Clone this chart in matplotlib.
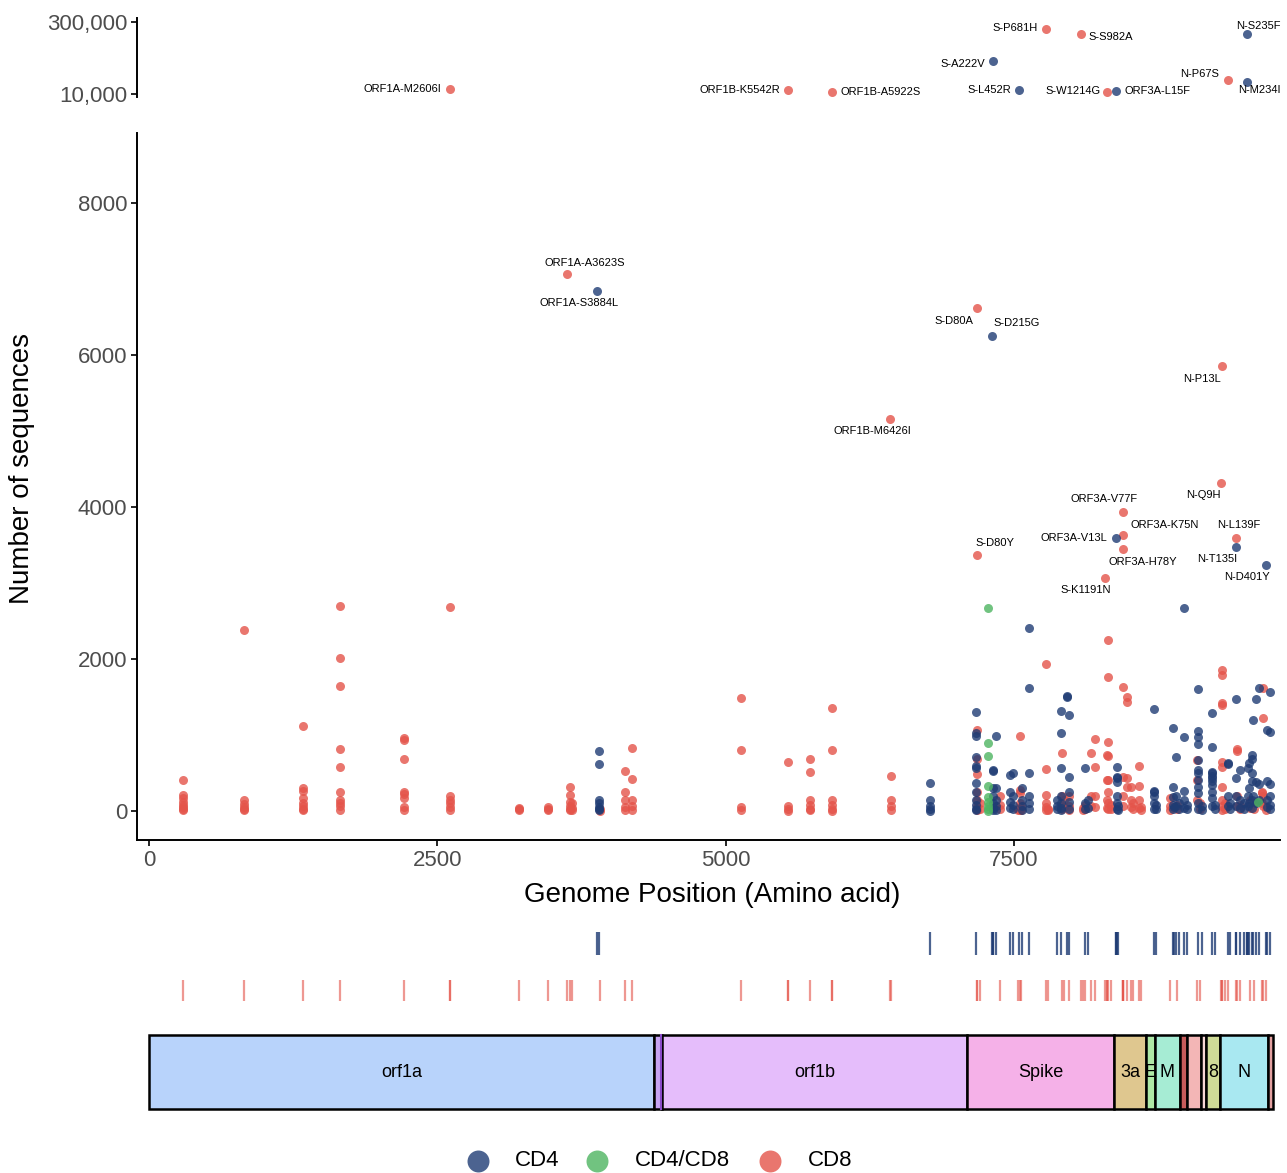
import numpy as np
import matplotlib
matplotlib.use('Agg')
import matplotlib.pyplot as plt
from matplotlib.patches import Rectangle

plt.rcParams['font.family'] = ['Liberation Sans', 'DejaVu Sans']

W, H = 1287, 1173

def box(x0, y0, x1, y1):
    # pixel box (top-left origin) -> figure fraction rect
    return [x0 / W, 1 - y1 / H, (x1 - x0) / W, (y1 - y0) / H]

# ------------------------------------------------------------
# Data (genome position in amino acids, number of sequences)
# ------------------------------------------------------------
cd8_points = [
    (292, 408), (292, 210), (292, 175), (292, 122), (292, 85), (292, 57), (292, 30), (292, 10),
    (822, 2380), (822, 145), (822, 90), (822, 57), (822, 30), (822, 15),
    (1335, 1118), (1335, 300), (1335, 260), (1335, 170), (1335, 100), (1335, 60), (1335, 25), (1335, 10),
    (1656, 2697), (1656, 2010), (1656, 1650), (1656, 815), (1656, 583), (1656, 254), (1656, 145),
    (1656, 100), (1656, 60), (1656, 10),
    (2210, 965), (2210, 939), (2210, 680), (2210, 254), (2210, 220), (2210, 170), (2210, 57), (2210, 10),
    (2610, 2690), (2610, 197), (2610, 145), (2610, 100), (2610, 50), (2610, 10),
    (3207, 35), (3207, 20), (3207, 10),
    (3460, 57), (3460, 30), (3460, 10),
    (3650, 311), (3650, 210), (3650, 122), (3650, 60), (3650, 20), (3650, 10),
    (3668, 100), (3668, 40), (3668, 10),
    (3914, 20), (3914, 5),
    (4124, 526), (4124, 254), (4124, 145), (4124, 57), (4124, 10),
    (4191, 825), (4191, 417), (4191, 145), (4191, 60), (4191, 10),
    (5137, 1487), (5137, 803), (5137, 50), (5137, 10),
    (5545, 645), (5545, 60), (5545, 20), (5545, 5),
    (5731, 684), (5731, 513), (5731, 145), (5731, 80), (5731, 30), (5731, 10),
    (5926, 1355), (5926, 803), (5926, 145), (5926, 80), (5926, 20), (5926, 5),
    (6436, 460), (6436, 145), (6436, 60), (6436, 10),
    (7182, 1066), (7182, 680), (7182, 487), (7182, 250), (7182, 150), (7182, 60), (7182, 10),
    (7205, 100), (7205, 30),
    (7381, 200), (7381, 80), (7381, 20),
    (7537, 30), (7537, 10),
    (7552, 987), (7552, 280), (7552, 230), (7552, 100), (7552, 40), (7552, 10),
    (7563, 60), (7563, 15),
    (7777, 1930), (7777, 557), (7777, 215), (7777, 100), (7777, 50), (7777, 10),
    (7795, 30), (7795, 10),
    (7919, 759), (7919, 200), (7919, 80), (7919, 20),
    (7935, 150), (7935, 50),
    (7981, 200), (7981, 60), (7981, 15),
    (8097, 40), (8097, 10),
    (8118, 80), (8118, 20),
    (8170, 759), (8170, 200), (8170, 60),
    (8205, 947), (8205, 583), (8205, 200), (8205, 50),
    (8304, 737), (8304, 414), (8304, 150), (8304, 40),
    (8318, 2250), (8318, 1759), (8318, 912), (8318, 728), (8318, 408), (8318, 250), (8318, 100), (8318, 20),
    (8340, 80), (8340, 20),
    (8448, 1636), (8448, 451), (8448, 200), (8448, 60),
    (8482, 1504), (8482, 1438), (8482, 430), (8482, 320),
    (8515, 320), (8515, 150), (8515, 50),
    (8535, 100), (8535, 30),
    (8581, 593), (8581, 329), (8581, 150), (8581, 40),
    (8602, 50), (8602, 10),
    (8850, 167), (8850, 60), (8850, 10),
    (8914, 80), (8914, 20),
    (9085, 675), (9085, 408), (9085, 150),
    (9110, 100), (9110, 30),
    (9306, 1855), (9306, 1789), (9306, 1417), (9306, 1391), (9306, 649), (9306, 583), (9306, 320),
    (9306, 150), (9306, 60), (9306, 10),
    (9332, 100), (9332, 30),
    (9436, 820), (9436, 790), (9436, 200), (9436, 60),
    (9459, 80), (9459, 20),
    (9547, 150), (9547, 40),
    (9582, 100), (9582, 30),
    (9651, 246), (9651, 232), (9651, 100),
    (9662, 1616), (9662, 1228), (9662, 200), (9662, 60),
    (9687, 50), (9687, 10),
]

cd4_points = [
    (3900, 790), (3900, 618), (3900, 145), (3900, 100), (3900, 57), (3900, 30), (3900, 10),
    (6771, 368), (6771, 145), (6771, 60), (6771, 20), (6771, 5),
    (7175, 1307), (7175, 1030), (7175, 987), (7175, 715), (7175, 592), (7175, 561), (7175, 364),
    (7175, 250), (7175, 150), (7175, 80), (7175, 30), (7175, 10),
    (7322, 539), (7322, 530), (7322, 300), (7322, 200), (7322, 100), (7322, 40), (7322, 10),
    (7348, 991), (7348, 300), (7348, 150), (7348, 60), (7348, 10),
    (7468, 474), (7468, 250), (7468, 120), (7468, 40),
    (7494, 496), (7494, 200), (7494, 80), (7494, 20),
    (7566, 300), (7566, 150), (7566, 60), (7566, 10),
    (7632, 2414), (7632, 1622), (7632, 496), (7632, 200), (7632, 100), (7632, 30),
    (7870, 150), (7870, 60), (7870, 20),
    (7911, 1316), (7911, 1020), (7911, 561), (7911, 200), (7911, 100), (7911, 40), (7911, 10),
    (7957, 1517), (7957, 1500),
    (7981, 1259), (7981, 451), (7981, 250), (7981, 120), (7981, 30),
    (8118, 562), (8118, 100), (8118, 20),
    (8138, 150), (8138, 40),
    (8390, 572), (8390, 451), (8390, 438), (8390, 385), (8390, 200), (8390, 100), (8390, 30),
    (8399, 60), (8399, 10),
    (8716, 1338), (8716, 264), (8716, 254), (8716, 191), (8716, 100), (8716, 30),
    (8728, 80), (8728, 20),
    (8877, 1088), (8877, 320), (8877, 188), (8877, 80), (8877, 20),
    (8888, 50),
    (8904, 706), (8904, 200), (8904, 60),
    (8930, 100), (8930, 20),
    (8977, 2675), (8977, 970), (8977, 264), (8977, 150), (8977, 40),
    (8999, 80), (8999, 20),
    (9100, 1601), (9100, 1054), (9100, 967), (9100, 882), (9100, 675), (9100, 539), (9100, 500),
    (9100, 408), (9100, 320), (9100, 232), (9100, 100), (9100, 30),
    (9132, 60), (9132, 10),
    (9219, 1283), (9219, 846), (9219, 517), (9219, 504), (9219, 460), (9219, 430), (9219, 395),
    (9219, 342), (9219, 254), (9219, 167), (9219, 60),
    (9243, 80), (9243, 20),
    (9355, 625), (9355, 618), (9355, 200), (9355, 60),
    (9371, 100), (9371, 20),
    (9425, 1478), (9425, 430), (9425, 200), (9425, 60),
    (9460, 539), (9460, 150), (9460, 40),
    (9492, 100), (9492, 20),
    (9526, 561), (9526, 200), (9526, 60),
    (9537, 634), (9537, 300), (9537, 100),
    (9566, 737), (9566, 678), (9566, 496), (9566, 400), (9566, 150), (9566, 40),
    (9575, 1197), (9575, 200),
    (9596, 1478), (9596, 380), (9596, 100),
    (9624, 1612), (9624, 360), (9624, 150),
    (9696, 1066), (9696, 400), (9696, 150), (9696, 50),
    (9720, 1570), (9720, 1036), (9720, 360), (9720, 200), (9720, 80), (9720, 20),
]

both_points = [
    (7277, 2675), (7277, 890), (7277, 724), (7277, 329), (7277, 180), (7277, 120),
    (7277, 60), (7277, 20), (7277, 5), (9616, 120),
]

# labelled mutations in the main panel
lab_names = ['ORF1A-A3623S', 'ORF1A-S3884L', 'S-D80A', 'S-D215G', 'N-P13L', 'ORF1B-M6426I',
             'N-Q9H', 'ORF3A-V77F', 'ORF3A-K75N', 'ORF3A-V13L', 'ORF3A-H78Y', 'N-L139F',
             'N-T135I', 'N-D401Y', 'S-D80Y', 'S-K1191N']
lab_pos = [3623, 3884, 7176, 7311, 9300, 6426, 9296, 8446, 8444, 8382, 8447, 9426,
           9422, 9688, 7176, 8287]
lab_counts = [7066, 6842, 6618, 6250, 5855, 5158, 4316, 3934, 3632, 3592, 3447, 3592,
              3474, 3237, 3368, 3066]
lab_group = ['CD8', 'CD4', 'CD8', 'CD4', 'CD8', 'CD8', 'CD8', 'CD8', 'CD8', 'CD4', 'CD8', 'CD8',
             'CD4', 'CD4', 'CD8', 'CD8']

# very frequent mutations (broken log axis on top)
top_names = ['ORF1A-M2606I', 'ORF1B-K5542R', 'ORF1B-A5922S', 'S-A222V', 'S-P681H', 'S-S982A',
             'S-L452R', 'S-W1214G', 'ORF3A-L15F', 'N-P67S', 'N-S235F', 'N-M234I']
top_pos = [2606, 5542, 5922, 7318, 7777, 8078, 7548, 8310, 8384, 9354, 9522, 9521]
top_counts = [12700, 12100, 11100, 47500, 215000, 170000, 12000, 11000, 11500, 19400, 170000, 17600]
top_group = ['CD8', 'CD8', 'CD8', 'CD4', 'CD8', 'CD8', 'CD4', 'CD8', 'CD4', 'CD8', 'CD4', 'CD4']

# genome segments
gene_names = ['orf1a', '', 'orf1b', 'Spike', '3a', 'E', 'M', '', '', '', '8', 'N', '']
gene_start = [0, 4380, 4450, 7096, 8369, 8644, 8719, 8941, 9002, 9123, 9166, 9287, 9706]
gene_end = [4380, 4450, 7096, 8369, 8644, 8719, 8941, 9002, 9123, 9166, 9287, 9706, 9744]
gene_colors = ['#b8d3fb', '#c7a3f3', '#e5bdfb', '#f5b1e8', '#dfc78f', '#aee8a6', '#a6ecd4',
               '#c65b5b', '#f3b6b6', '#f8d6d6', '#cfdb97', '#a9e8f1', '#e2a0a0']

groups = ['CD4', 'CD4/CD8', 'CD8']
colors = {'CD4': '#1f3c74', 'CD4/CD8': '#4db461', 'CD8': '#e4544a'}
ALPHA = 0.8
S = 42

# label offsets (points) : dx, dy, ha
lab_off = {
    'ORF1A-A3623S': (13, 8, 'center'), 'ORF1A-S3884L': (-13, -9, 'center'),
    'S-D80A': (-16, -9, 'center'), 'S-D215G': (18, 9, 'center'),
    'N-P13L': (-14, -9, 'center'), 'ORF1B-M6426I': (-13, -9, 'center'),
    'N-Q9H': (-13, -9, 'center'), 'ORF3A-V77F': (-14, 9, 'center'),
    'ORF3A-K75N': (30, 7, 'center'), 'ORF3A-V13L': (-30, 0, 'center'),
    'ORF3A-H78Y': (14, -9, 'center'), 'N-L139F': (2, 9, 'center'),
    'N-T135I': (-13, -9, 'center'), 'N-D401Y': (-14, -9, 'center'),
    'S-D80Y': (13, 9, 'center'), 'S-K1191N': (-14, -9, 'center'),
}
top_off = {
    'ORF1A-M2606I': (-6, 0, 'right'), 'ORF1B-K5542R': (-6, 0, 'right'),
    'ORF1B-A5922S': (6, 0, 'left'), 'S-A222V': (-6, -2, 'right'),
    'S-P681H': (-6, 1, 'right'), 'S-S982A': (6, -2, 'left'),
    'S-L452R': (-6, 0, 'right'), 'S-W1214G': (-5, 1, 'right'),
    'ORF3A-L15F': (6, 0, 'left'), 'N-P67S': (-6, 4, 'right'),
    'N-S235F': (8, 6, 'center'), 'N-M234I': (9, -6, 'center'),
}

XLIM = (-104, 9807)

fig = plt.figure(figsize=(W / 100, H / 100), dpi=100)

# ------------------------------------------------------------
# main panel
# ------------------------------------------------------------
ax = fig.add_axes(box(137, 133, 1280, 840))
for grp, pts in [('CD8', cd8_points), ('CD4', cd4_points), ('CD4/CD8', both_points)]:
    p = np.array(pts)
    ax.scatter(p[:, 0], p[:, 1], s=S, color=colors[grp], alpha=ALPHA, linewidths=0, zorder=2)
for name, x, y, g in zip(lab_names, lab_pos, lab_counts, lab_group):
    ax.scatter(x, y, s=S, color=colors[g], alpha=ALPHA, linewidths=0, zorder=3)
    dx, dy, ha = lab_off[name]
    ax.annotate(name, (x, y), xytext=(dx, dy), textcoords='offset points',
                ha=ha, va='center', fontsize=8)
ax.set_xlim(*XLIM)
ax.set_ylim(-382, 8921)
ax.set_xticks([0, 2500, 5000, 7500])
ax.set_yticks([0, 2000, 4000, 6000, 8000])
for s in ['top', 'right']:
    ax.spines[s].set_visible(False)
for s in ['left', 'bottom']:
    ax.spines[s].set_linewidth(1.4)
ax.tick_params(labelsize=16, labelcolor='#4d4d4d', length=4, width=1.2, pad=3)

# ------------------------------------------------------------
# top panel (log scale)
# ------------------------------------------------------------
axt = fig.add_axes(box(137, 18, 1280, 97))
for name, x, y, g in zip(top_names, top_pos, top_counts, top_group):
    axt.scatter(x, y, s=S, color=colors[g], alpha=ALPHA, linewidths=0, zorder=3)
    dx, dy, ha = top_off[name]
    axt.annotate(name, (x, y), xytext=(dx, dy), textcoords='offset points',
                 ha=ha, va='center', fontsize=8)
axt.set_yscale('log')
axt.set_xlim(*XLIM)
axt.set_ylim(8680, 362400)
axt.set_yticks([10000, 300000])
axt.set_yticklabels(['10,000', '300,000'])
axt.minorticks_off()
axt.set_xticks([])
for s in ['top', 'right', 'bottom']:
    axt.spines[s].set_visible(False)
axt.spines['left'].set_linewidth(1.4)
axt.tick_params(labelsize=16, labelcolor='#4d4d4d', length=4, width=1.2, pad=3)
axt.patch.set_alpha(0)

fig.text(22 / W, 1 - 468 / H, 'Number of sequences', rotation=90, ha='center', va='center', fontsize=20)
fig.text(712 / W, 1 - 895 / H, 'Genome Position (Amino acid)', ha='center', va='center', fontsize=20)

# ------------------------------------------------------------
# site rug rows
# ------------------------------------------------------------
axr = fig.add_axes(box(137, 925, 1280, 1010))
cd4_sites = sorted(set([p[0] for p in cd4_points] + [x for x, g in zip(lab_pos, lab_group) if g == 'CD4']
                       + [x for x, g in zip(top_pos, top_group) if g == 'CD4']))
cd8_sites = sorted(set([p[0] for p in cd8_points] + [x for x, g in zip(lab_pos, lab_group) if g == 'CD8']
                       + [x for x, g in zip(top_pos, top_group) if g == 'CD8']))
axr.vlines(cd4_sites, 0.647, 0.918, color=colors['CD4'], lw=1.6, alpha=0.8)
axr.vlines(cd8_sites, 0.106, 0.353, color=colors['CD8'], lw=1.6, alpha=0.6)
axr.set_xlim(*XLIM)
axr.set_ylim(0, 1)
axr.axis('off')

# ------------------------------------------------------------
# genome map
# ------------------------------------------------------------
axg = fig.add_axes(box(137, 1025, 1280, 1120))
for name, a, b, c in zip(gene_names, gene_start, gene_end, gene_colors):
    axg.add_patch(Rectangle((a, 0.116), b - a, 0.779, facecolor=c, edgecolor='black', linewidth=1.8))
    if name:
        axg.text((a + b) / 2, 0.5, name, ha='center', va='center', fontsize=13)
axg.axvline(4440, ymin=0.116, ymax=0.895, color='#8a4cc8', lw=1.5)
axg.set_xlim(*XLIM)
axg.set_ylim(0, 1)
axg.axis('off')

# ------------------------------------------------------------
# legend (drawn in pixel coordinates of the figure)
# ------------------------------------------------------------
axl = fig.add_axes([0, 0, 1, 1])
axl.set_xlim(0, W)
axl.set_ylim(H, 0)
axl.axis('off')
leg_marker_x = [478, 597, 770]
leg_text_x = [515, 635, 808]
for g, mx, tx in zip(groups, leg_marker_x, leg_text_x):
    axl.scatter(mx, 1161, s=250, color=colors[g], alpha=ALPHA, linewidths=0)
    axl.text(tx, 1161, g, ha='left', va='center', fontsize=16)

plt.savefig('out.png', dpi=100)
